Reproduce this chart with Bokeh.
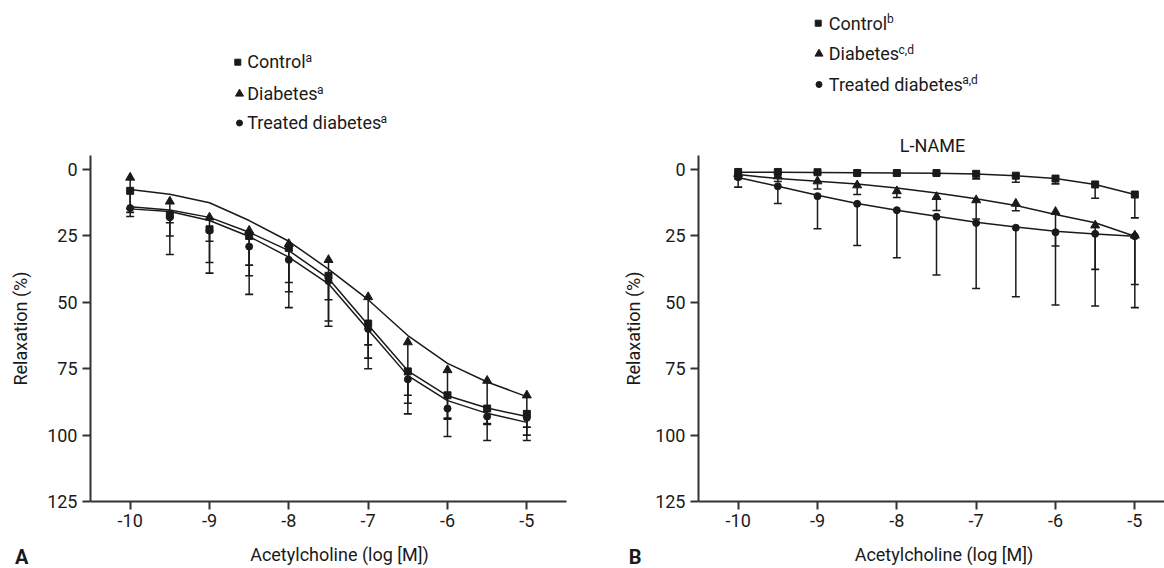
from bokeh.plotting import figure
from bokeh.models import Range1d, FixedTicker
from bokeh.layouts import row, column
from bokeh.core.properties import value
from bokeh.embed import file_html
from bokeh.resources import INLINE

# ---------------- data ----------------
log_ach = [-10, -9.5, -9, -8.5, -8, -7.5, -7, -6.5, -6, -5.5, -5]
x_ticks = [-10, -9, -8, -7, -6, -5]
y_ticks = [0, 25, 50, 75, 100, 125]

# Panel A (no inhibitor)
a_control_mean = [8, 17, 22.5, 25, 29.5, 40, 58, 76, 85, 90, 92]
a_control_err = [16.1, 25, 35, 40, 46, 57, 71, 88, 94, 96, 100]
a_control_fit = [14.0, 15.2, 18.0, 23.6, 30.5, 41.0, 58.5, 75.8, 85.2, 89.8, 93.0]

a_diab_mean = [3, 12, 18, 23, 28, 34, 48, 65, 75.5, 79.5, 85]
a_diab_err = [14.8, 20, 27, 36, 42.5, 49, 66, 85, 93.6, 95.6, 97]
a_diab_fit = [7.5, 9.3, 12.5, 19.2, 27.0, 37.5, 49.0, 62.5, 73.0, 80.0, 85.5]

a_treat_mean = [14.5, 18, 23, 29, 34, 42, 60, 79, 90, 93, 93.5]
a_treat_err = [17.7, 32, 39, 47, 52, 59, 75, 92, 100.5, 102, 102]
a_treat_fit = [14.8, 15.8, 19.2, 25.2, 33.0, 43.0, 60.3, 77.6, 87.0, 91.8, 95.2]

# Panel B (L-NAME)
b_control_mean = [0.9, 0.9, 1.0, 1.3, 1.3, 1.3, 1.6, 2.3, 3.4, 5.6, 9.4]
b_control_err = [1.5, 1.5, 1.5, 1.8, 1.8, 1.8, 3.5, 4.8, 5.4, 10.8, 18.2]
b_control_fit = [1.0, 1.0, 1.1, 1.2, 1.3, 1.4, 1.7, 2.3, 3.4, 5.6, 9.4]

b_diab_mean = [1.6, 2.5, 4.4, 5.9, 8.1, 10.3, 11.5, 12.8, 15.9, 21.0, 24.8]
b_diab_err = [3.5, 4.5, 7.3, 9.4, 10.5, 15.4, 18.6, 15.5, 28.8, 37.6, 43.3]
b_diab_fit = [1.9, 3.4, 4.4, 5.4, 6.9, 8.8, 11.0, 13.5, 16.9, 20.0, 25.1]

b_treat_mean = [2.9, 6.3, 10.0, 12.9, 15.3, 17.8, 20.1, 21.9, 23.6, 24.2, 25.1]
b_treat_err = [6.6, 12.8, 22.3, 28.6, 33.2, 39.7, 44.8, 47.9, 51.0, 51.4, 52.0]
b_treat_fit = [3.0, 6.3, 9.7, 12.8, 15.3, 17.6, 19.8, 21.6, 23.2, 24.3, 25.1]

legend_names = ["Control", "Diabetes", "Treated diabetes"]
legend_sup_a = ["a", "a", "a"]
legend_sup_b = ["b", "c,d", "a,d"]
markers = ["square", "triangle", "circle"]
x_title = "Acetylcholine (log [M])"
y_title = "Relaxation (%)"
panel_b_title = "L-NAME"

# ---------------- style / layout (canvas px) ----------------
FONT = "Roboto"
INK = "#1a1a1a"
AXIS = "#333333"
FS = 18
SUP = 12
BASE_FIX = 0.37          # renderer draws "alphabetic" text this many em lower

X0 = -10.5
Y_TOP, Y_BOT = -5.3, 125
SX = 476 / 6.0           # px per x unit
FRAME_TOP, FRAME_BOT = 155, 501
HEAD_H = FRAME_TOP
PLOT_BOTTOM_BORDER = 44
PLOT_H = (FRAME_BOT - FRAME_TOP) + PLOT_BOTTOM_BORDER
FOOT_H = 568 - HEAD_H - PLOT_H
MARKER_SIZE = {"square": 7, "triangle": 9, "circle": 7}


def style_plain(p):
    p.xgrid.visible = False
    p.ygrid.visible = False
    p.outline_line_color = None
    p.background_fill_color = "white"
    p.border_fill_color = "white"


def strip_fig(width, left, right, frame_l, frame_r, y0, y1, with_axis=False):
    p = figure(width=width, height=y1 - y0,
               x_range=Range1d(frame_l, frame_r), y_range=Range1d(y1, y0),
               x_axis_type=None, y_axis_type="linear" if with_axis else None,
               output_backend="svg", toolbar_location=None,
               title_location=None,
               min_border_left=left, min_border_right=right,
               min_border_top=0, min_border_bottom=0)
    style_plain(p)
    return p


def make_plot(width, left, right, x_end, label_standoff):
    p = figure(width=width, height=PLOT_H,
               x_range=Range1d(X0, x_end), y_range=Range1d(Y_BOT, Y_TOP),
               output_backend="svg", toolbar_location=None,
               title_location=None,
               min_border_left=left, min_border_right=right,
               min_border_top=0, min_border_bottom=PLOT_BOTTOM_BORDER)
    style_plain(p)
    for ax in (p.xaxis[0], p.yaxis[0]):
        ax.axis_line_color = AXIS
        ax.axis_line_width = 2
        ax.major_tick_line_color = AXIS
        ax.major_tick_line_width = 2
        ax.major_tick_out = 8
        ax.major_tick_in = 0
        ax.minor_tick_line_color = None
        ax.major_label_text_font = FONT
        ax.major_label_text_font_size = f"{FS}px"
        ax.major_label_text_color = INK
    p.xaxis[0].ticker = FixedTicker(ticks=x_ticks)
    p.xaxis[0].major_label_overrides = {t: str(t) for t in x_ticks}
    p.yaxis[0].ticker = FixedTicker(ticks=y_ticks)
    p.yaxis[0].major_label_overrides = {t: str(t) for t in y_ticks}
    p.xaxis[0].major_label_standoff = 4
    p.yaxis[0].major_label_standoff = 5
    p.yaxis[0].axis_label = y_title
    p.yaxis[0].axis_label_text_font = FONT
    p.yaxis[0].axis_label_text_font_size = f"{FS}px"
    p.yaxis[0].axis_label_text_font_style = "normal"
    p.yaxis[0].axis_label_text_color = INK
    p.yaxis[0].axis_label_standoff = label_standoff
    return p


def add_series(p, mean, err, fit, marker):
    p.line(log_ach, fit, line_color=INK, line_width=1.5)
    p.segment(x0=log_ach, y0=mean, x1=log_ach, y1=err, line_color=INK, line_width=1.5)
    p.scatter(log_ach, err, marker="dash", size=8, line_color=INK, line_width=1.6)
    p.scatter(log_ach, mean, marker=marker, size=MARKER_SIZE[marker],
              fill_color=INK, line_color=INK)


def txt(p, xs, baselines, texts, size=FS, align="left", style="normal"):
    ys = [b - BASE_FIX * size for b in baselines]
    p.text(x=xs, y=ys, text=texts, text_font=value(FONT),
           text_font_size=value(f"{size}px"), text_color=INK, text_align=align,
           text_baseline="alphabetic", text_font_style=style)


def add_legend(h, sups, mxs, mys, tx, bases, sup_xs):
    for mk, mx, my in zip(markers, mxs, mys):
        h.scatter([mx], [my], marker=mk, size=MARKER_SIZE[mk] - 1,
                  fill_color=INK, line_color=INK)
    txt(h, [tx] * 3, bases, legend_names)
    txt(h, sup_xs, [b - 6 for b in bases], sups, size=SUP)


def add_letter(foot, letter, standoff):
    ax = foot.yaxis[0]
    ax.ticker = FixedTicker(ticks=[])
    ax.axis_line_color = None
    ax.major_tick_line_color = None
    ax.minor_tick_line_color = None
    ax.major_tick_out = 0
    ax.major_label_standoff = 0
    ax.axis_label = letter
    ax.axis_label_orientation = "horizontal"
    ax.axis_label_text_font = FONT
    ax.axis_label_text_font_size = "20px"
    ax.axis_label_text_font_style = "bold"
    ax.axis_label_text_color = INK
    ax.axis_label_standoff = standoff


# ---------------- panel A (canvas x 0..600, frame 90..566) ----------------
WA, LA, RA = 600, 90, 34
head_a = strip_fig(WA, LA, RA, 90, 566, 0, HEAD_H)
add_legend(head_a, legend_sup_a,
           [237.3, 239, 239], [61.7, 93.3, 122.5],
           246.7, [68.1, 99.7, 128.9], [305, 316.5, 380])

pa = make_plot(WA, LA, RA, -4.5, 13)
add_series(pa, a_control_mean, a_control_err, a_control_fit, "square")
add_series(pa, a_diab_mean, a_diab_err, a_diab_fit, "triangle")
add_series(pa, a_treat_mean, a_treat_err, a_treat_fit, "circle")

foot_a = strip_fig(WA, LA, RA, 90, 566, HEAD_H + PLOT_H, 568, with_axis=True)
txt(foot_a, [339], [561], [x_title], align="center")
add_letter(foot_a, "A", 62)

# ---------------- panel B (canvas x 600..1164, frame 698..1164) ----------------
WB, LB, RB = 564, 98, 0
b_end = X0 + (1164 - 698) / SX
head_b = strip_fig(WB, LB, RB, 698, 1164, 0, HEAD_H)
add_legend(head_b, legend_sup_b,
           [817.7, 818.5, 818.5], [22.7, 53.3, 84],
           828.3, [29.3, 59.9, 90.3], [886.5, 898, 961.7])
txt(head_b, [932], [151.4], [panel_b_title], align="center")

pb = make_plot(WB, LB, RB, b_end, 8)
add_series(pb, b_control_mean, b_control_err, b_control_fit, "square")
add_series(pb, b_diab_mean, b_diab_err, b_diab_fit, "triangle")
add_series(pb, b_treat_mean, b_treat_err, b_treat_fit, "circle")

foot_b = strip_fig(WB, LB, RB, 698, 1164, HEAD_H + PLOT_H, 568, with_axis=True)
txt(foot_b, [943.5], [561], [x_title], align="center")
add_letter(foot_b, "B", 57)

layout = row(column(head_a, pa, foot_a), column(head_b, pb, foot_b))
open("out.html", "w").write(file_html(layout, INLINE))
